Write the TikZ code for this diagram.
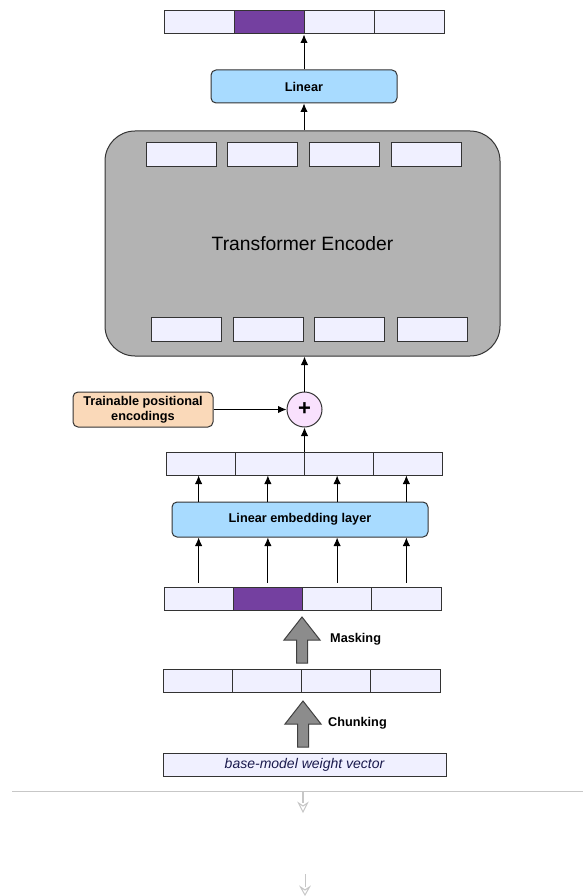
\documentclass[tikz,border=0pt]{standalone}
\usepackage{fontspec}
\setmainfont{Liberation Sans}
\usetikzlibrary{arrows.meta}
\definecolor{cellfill}{HTML}{F0F0FF}
\definecolor{maskfill}{HTML}{7440A0}
\definecolor{layerfill}{HTML}{A8DBFF}
\definecolor{encfill}{HTML}{B3B3B3}
\definecolor{posfill}{HTML}{FAD9B9}
\definecolor{plusfill}{HTML}{F9E1FD}
\definecolor{arrowfill}{HTML}{8C8C8C}
\definecolor{vecfont}{HTML}{1A1A4D}
\begin{document}
\begin{tikzpicture}[
x=1pt, y=-1pt,
cell/.style={
  draw=black!80,
  fill=cellfill,
  line width=1pt,
  minimum width=69.5pt,
  minimum height=23pt,
  inner sep=0pt
  },
layer/.style={
  draw=black!80,
  fill=layerfill,
  line width=1pt,
  rounded corners=5pt,
  minimum height=34pt,
  font=\bfseries\fontsize{12.7}{14.5}\selectfont
  },
encoder/.style={
  draw=black!80,
  fill=encfill,
  line width=1pt,
  rounded corners=30pt,
  minimum width=395pt,
  minimum height=225pt,
  font=\fontsize{19.3}{22}\selectfont
  },
lbl/.style={font=\bfseries\fontsize{12.7}{14.5}\selectfont, anchor=west, inner sep=0pt},
arr/.style={-{Latex[length=8.5pt,width=7.5pt]}, line width=1pt},
faint/.style={draw=black!22, line width=1pt},
bigarrow/.pic={
  \draw[draw=black!75, fill=arrowfill, line width=1pt]
    (-5.5,0) -- (-5.5,-23) -- (-18,-23) -- (0,-46) -- (18,-23) -- (5.5,-23) -- (5.5,0) -- cycle;
  }
]
\useasboundingbox (0,0) rectangle (583,896);

% output row
\foreach \k/\f in {1/cellfill,2/maskfill,3/cellfill,4/cellfill}
  \node[cell,fill=\f,minimum width=70pt] (o\k) at ({164+70*\k-35},22.5) {};
\node[layer,minimum width=186pt,minimum height=33pt] (lin) at (304,86.5) {Linear};

% encoder
\node[encoder] (enc) at (302.5,243.5) {Transformer Encoder};
\foreach \x [count=\k] in {181,262,344,426}
  \node[cell,minimum width=70pt,minimum height=24pt] (t\k) at (\x,154.5) {};
\foreach \x [count=\k] in {186.5,268,349.5,432}
  \node[cell,minimum width=70pt,minimum height=24pt] (b\k) at (\x,329) {};

% positional encodings
\node[circle,draw=black!80,fill=plusfill,line width=1pt,minimum size=35pt,inner sep=0pt,
  font=\bfseries\fontsize{22}{22}\selectfont] (add) at (304.5,409.5) {+};
\node[layer,fill=posfill,minimum width=140pt,minimum height=35pt,align=center] (pos) at (143,409.5)
  {Trainable positional\\encodings};

% embedding
\foreach \k in {1,...,4}
  \node[cell,minimum width=69pt] (e\k) at ({166+69*\k-34.5},463.5) {};
\node[layer,minimum width=256pt,minimum height=35pt] (emb) at (300,519.5) {Linear embedding layer};
\foreach \k/\f in {1/cellfill,2/maskfill,3/cellfill,4/cellfill}
  \node[cell,fill=\f,minimum width=69.25pt] (m\k) at ({164+69.25*\k-34.625},598.5) {};
\foreach \k in {1,...,4}
  \node[cell,minimum width=69.25pt] (c\k) at ({163+69.25*\k-34.625},680.5) {};
\node[cell,minimum width=283pt,font=\itshape\fontsize{14}{16}\selectfont,text=vecfont] (vec) at (304.5,764.5)
  {base-model weight vector};

% block arrows
\pic at (302,663) {bigarrow};
\node[lbl] (masklbl) at (330,639) {Masking};
\pic at (303,747) {bigarrow};
\node[lbl] (chunklbl) at (328,723) {Chunking};

\path[arr]
  (lin.north) edge (lin.north |- o2.south)
  (lin.south |- enc.north) edge (lin.south)
  (add.north) edge (add.north |- enc.south)
  (pos.east) edge (add.west)
  (e2.north east) edge (add.south);
\foreach \k in {1,...,4}
  \path[arr]
    (emb.north -| m\k) edge (e\k.south -| m\k)
    ([yshift=4pt]m\k.north) edge (emb.south -| m\k);

% faint leftovers below
\draw[faint] (12,791) -- (583,791);
\draw[faint,line width=2pt] (303,791) -- (303,803);
\draw[faint,fill=white] (298.5,803) -- (303,812) -- (307.5,803) -- (303,806) -- cycle;
\draw[faint] (305,874) -- (305,887);
\draw[faint,fill=white] (300.5,887) -- (305,895) -- (309.5,887) -- (305,890) -- cycle;
\end{tikzpicture}
\end{document}
